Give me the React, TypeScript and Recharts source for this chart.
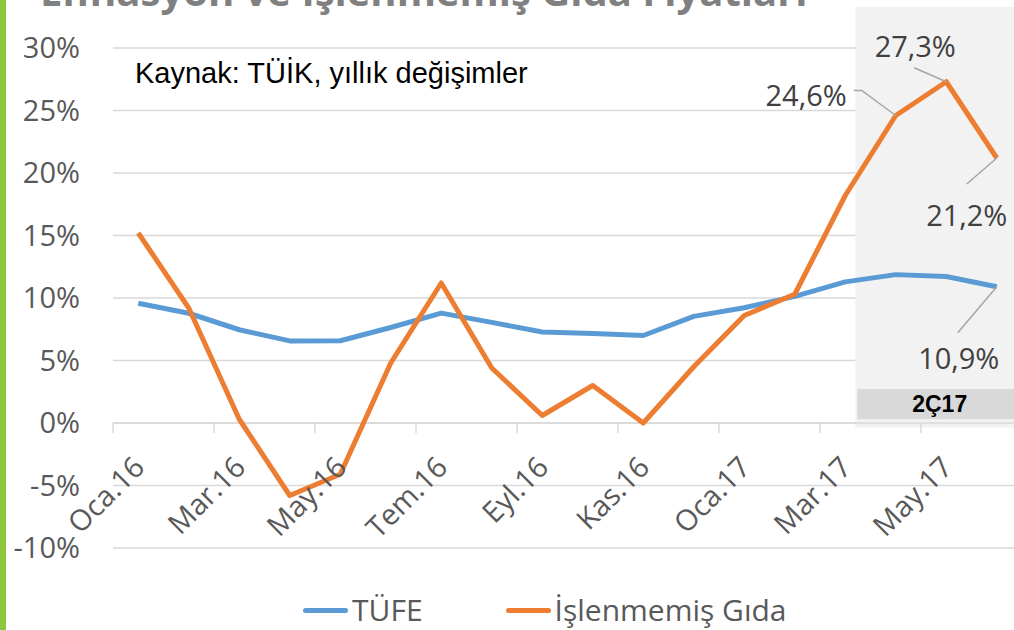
import React from 'react';
import {
  LineChart,
  Line,
  XAxis,
  YAxis,
  CartesianGrid,
  ReferenceArea,
  ReferenceLine,
  LabelList,
  Legend,
} from 'recharts';

// ---------- data ----------
const MONTHS = [
  'Oca.16', 'Şub.16', 'Mar.16', 'Nis.16', 'May.16', 'Haz.16', 'Tem.16', 'Ağu.16', 'Eyl.16',
  'Eki.16', 'Kas.16', 'Ara.16', 'Oca.17', 'Şub.17', 'Mar.17', 'Nis.17', 'May.17', 'Haz.17',
];
const TUFE = [9.58, 8.78, 7.46, 6.57, 6.58, 7.64, 8.79, 8.05, 7.28, 7.16, 7.0, 8.53, 9.22, 10.13, 11.29, 11.87, 11.72, 10.9];
const GIDA = [15.2, 9.2, 0.3, -5.8, -4.1, 4.8, 11.2, 4.4, 0.6, 3.0, 0.0, 4.5, 8.6, 10.3, 18.2, 24.6, 27.3, 21.2];
const Y_TICKS = [-10, -5, 0, 5, 10, 15, 20, 25, 30];
const X_TICKS = [0, 2, 4, 6, 8, 10, 12, 14, 16];
const SERIES_NAMES = { tufe: 'TÜFE', gida: 'İşlenmemiş Gıda' };
const TITLE = 'Enflasyon ve İşlenmemiş Gıda Fiyatları';
const NOTE = 'Kaynak: TÜİK, yıllık değişimler';
const PERIOD_LABEL = '2Ç17';

const data = MONTHS.map((m, i) => ({ i, month: m, tufe: TUFE[i], gida: GIDA[i] }));

// ---------- layout / style ----------
const CHART_W = 1040;
const CHART_H = 630;
const MARGIN = { top: 48, right: 18, bottom: 52, left: 0 };
const Y_AXIS_W = 113;
const X_AXIS_H = 30;
const Y_MIN = -10;
const Y_MAX = 30;
const PLOT_H = CHART_H - MARGIN.top - MARGIN.bottom - X_AXIS_H;
const PLOT_W = CHART_W - MARGIN.left - MARGIN.right - Y_AXIS_W;
const BAND = PLOT_W / MONTHS.length;
const ZERO_Y = MARGIN.top + (PLOT_H * (Y_MAX - 0)) / (Y_MAX - Y_MIN);

const FONT = '"Open Sans", "Noto Sans", sans-serif';
const GRID = '#d9d9d9';
const TEXT = '#595959';
const BLUE = '#5b9bd5';
const ORANGE = '#ed7d31';

// shaded highlight region (in axis units)
const HL = { x1: 14.2, x2: 17.5, y1: -0.35, y2: 33.3 };
const HL_BOX = { x1: 14.24, x2: 17.5, y1: 0.3, y2: 2.72 };

// data-label placement relative to the point (pixels)
type LabelCfg = { index: number; dx: number; dy: number; anchor: 'start' | 'middle' | 'end'; leader: number[][] };
const LABELS: Record<string, LabelCfg[]> = {
  gida: [
    { index: 15, dx: -49, dy: -21, anchor: 'end', leader: [[-42, -25], [-34, -25], [0, 0]] },
    { index: 16, dx: -31, dy: -36, anchor: 'middle', leader: [[-32, -14], [0, 0]] },
    { index: 17, dx: -30, dy: 56, anchor: 'middle', leader: [[-30, 26], [0, 0]] },
  ],
  tufe: [{ index: 17, dx: -38, dy: 71, anchor: 'middle', leader: [[-39, 46], [0, 0]] }],
};

const fmtPct = (v: number) => v.toFixed(1).replace('.', ',') + '%';

const makeLabel = (key: string) => (props: any) => {
  const { x, y, index, value } = props;
  const cfg = (LABELS[key] || []).find((c) => c.index === index);
  if (!cfg || x == null || y == null) return null;
  const pts = cfg.leader.map(([a, b]) => `${x + a},${y + b}`).join(' ');
  return (
    <g>
      <polyline points={pts} fill="none" stroke="#a6a6a6" strokeWidth={1.5} />
      <text
        x={x + cfg.dx}
        y={y + cfg.dy}
        textAnchor={cfg.anchor}
        dominantBaseline="central"
        fontFamily={FONT}
        fontSize={29}
        fill="#404040"
      >
        {fmtPct(Number(value))}
      </text>
    </g>
  );
};

const XTick = (props: any) => {
  const { x, payload } = props;
  const tx = x - BAND / 2;
  const lx = x + 8;
  const ly = ZERO_Y + 46;
  return (
    <g>
      <line x1={tx} x2={tx} y1={ZERO_Y} y2={ZERO_Y + 10} stroke={GRID} strokeWidth={1.5} />
      <text
        x={lx}
        y={ly}
        transform={`rotate(-45 ${lx} ${ly})`}
        textAnchor="end"
        fontFamily={FONT}
        fontSize={29}
        fill={TEXT}
      >
        {MONTHS[payload.value]}
      </text>
    </g>
  );
};

const LegendContent = (props: any) => {
  const items = props.payload || [];
  return (
    <div style={{ display: 'flex', alignItems: 'center', fontFamily: FONT, fontSize: 30, color: TEXT, lineHeight: '34px' }}>
      {items.map((it: any, k: number) => (
        <div key={k} style={{ display: 'flex', alignItems: 'center', marginRight: k === 0 ? 83 : 0 }}>
          <span style={{ display: 'inline-block', width: 45, height: 5, borderRadius: 3, background: it.color, marginRight: 4 }} />
          <span>{it.value}</span>
        </div>
      ))}
    </div>
  );
};

export default function App() {
  return (
    <div style={{ position: 'fixed', left: 0, top: 0, width: 1014, height: 630, overflow: 'hidden', background: '#fff' }}>
      <svg width={1014} height={630} style={{ position: 'absolute', left: 0, top: 0 }}>
        <rect x={0} y={0} width={6} height={630} fill="#8dc63f" />
        <text x={40} y={6} fontFamily={FONT} fontWeight="bold" fontSize={40} fill="#808080">
          {TITLE}
        </text>
        <text x={135} y={83} fontFamily='"Liberation Sans", Arial, sans-serif' fontSize={29} fill="#000">
          {NOTE}
        </text>
      </svg>
      <div style={{ position: 'absolute', left: 0, top: 0 }}>
        <LineChart width={CHART_W} height={CHART_H} data={data} margin={MARGIN}>
          <ReferenceArea x1={HL.x1} x2={HL.x2} y1={HL.y1} y2={HL.y2} fill="#f2f2f2" fillOpacity={1} stroke="none" ifOverflow="visible" />
          <CartesianGrid vertical={false} stroke={GRID} strokeWidth={1.5} />
          <ReferenceArea
            x1={HL_BOX.x1}
            x2={HL_BOX.x2}
            y1={HL_BOX.y1}
            y2={HL_BOX.y2}
            fill="#d9d9d9"
            fillOpacity={1}
            stroke="none"
            ifOverflow="visible"
            label={{ value: PERIOD_LABEL, position: 'center', fill: '#000', fontSize: 23, fontWeight: 'bold', fontFamily: '"Liberation Sans", Arial, sans-serif' }}
          />
          <ReferenceLine y={0} stroke={GRID} strokeWidth={1.5} />
          <XAxis
            dataKey="i"
            type="number"
            domain={[-0.5, MONTHS.length - 0.5]}
            ticks={X_TICKS}
            interval={0}
            height={X_AXIS_H}
            axisLine={false}
            tickLine={false}
            tick={<XTick />}
            allowDataOverflow
          />
          <YAxis
            type="number"
            domain={[Y_MIN, Y_MAX]}
            ticks={Y_TICKS}
            width={Y_AXIS_W}
            axisLine={false}
            tickLine={false}
            tickSize={0}
            tickMargin={33}
            tickFormatter={(v: number) => `${v}%`}
            tick={{ fontFamily: FONT, fontSize: 29, fill: TEXT }}
          />
          <Line
            type="linear"
            dataKey="tufe"
            name={SERIES_NAMES.tufe}
            stroke={BLUE}
            strokeWidth={5}
            dot={false}
            strokeLinejoin="round"
            isAnimationActive={false}
          >
            <LabelList dataKey="tufe" content={makeLabel('tufe')} />
          </Line>
          <Line
            type="linear"
            dataKey="gida"
            name={SERIES_NAMES.gida}
            stroke={ORANGE}
            strokeWidth={5}
            dot={false}
            strokeLinejoin="round"
            isAnimationActive={false}
          >
            <LabelList dataKey="gida" content={makeLabel('gida')} />
          </Line>
          <Legend
            layout="horizontal"
            verticalAlign="middle"
            align="center"
            content={<LegendContent />}
            wrapperStyle={{ top: 593, left: 303, width: 'auto', height: 34 }}
          />
        </LineChart>
      </div>
    </div>
  );
}
